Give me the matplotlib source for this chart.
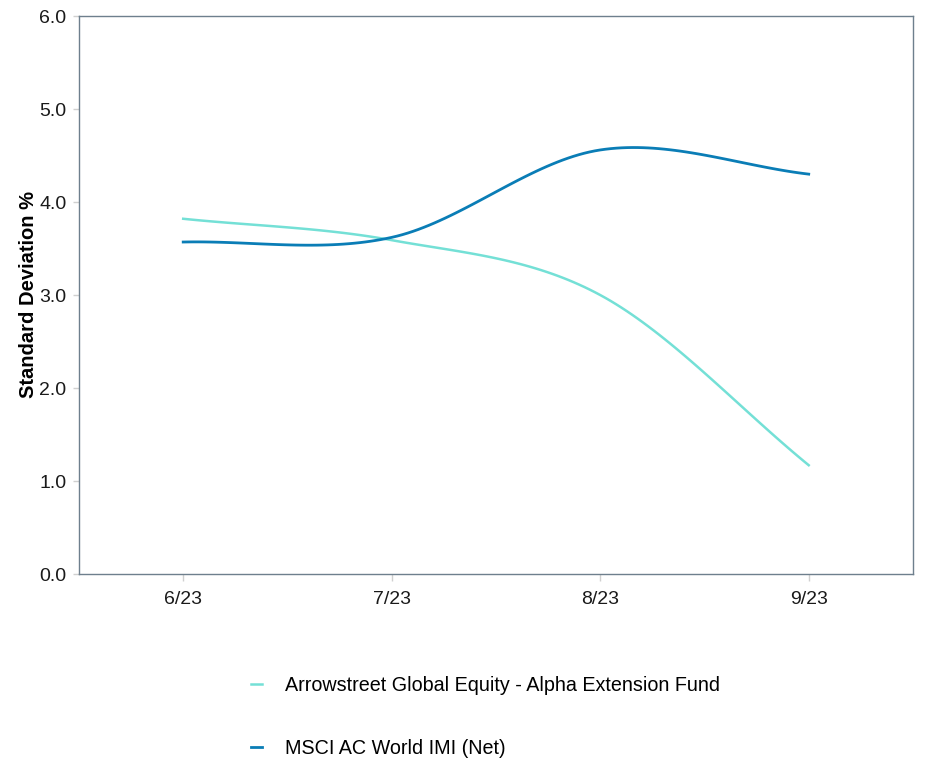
import matplotlib
matplotlib.use('Agg')
import matplotlib.pyplot as plt
import numpy as np

plt.rcParams['font.family'] = ['Liberation Sans', 'DejaVu Sans']

months = ['6/23', '7/23', '8/23', '9/23']
fund_name = 'Arrowstreet Global Equity - Alpha Extension Fund'
index_name = 'MSCI AC World IMI (Net)'
fund_sd = [3.82, 3.59, 3.00, 1.17]
index_sd = [3.57, 3.62, 4.56, 4.30]
y_ticks = [0.0, 1.0, 2.0, 3.0, 4.0, 5.0, 6.0]


def smooth(y, n=40):
    # catmull-rom style spline through the points, for drawing only
    y = np.asarray(y, dtype=float)
    x = np.arange(len(y))
    m = np.gradient(y)
    xs, ys = [], []
    for i in range(len(y) - 1):
        t = np.linspace(0, 1, n)
        h00 = 2 * t**3 - 3 * t**2 + 1
        h10 = t**3 - 2 * t**2 + t
        h01 = -2 * t**3 + 3 * t**2
        h11 = t**3 - t**2
        xs.append(x[i] + t)
        ys.append(h00 * y[i] + h10 * m[i] + h01 * y[i + 1] + h11 * m[i + 1])
    return np.concatenate(xs), np.concatenate(ys)


fig = plt.figure(figsize=(9.3, 7.6), dpi=100)
ax = fig.add_axes([0.0849, 0.2447, 0.8968, 0.7342])

x1, y1 = smooth(fund_sd)
x2, y2 = smooth(index_sd)
ax.plot(x1, y1, color='#74e0d6', linewidth=1.8, label=fund_name)
ax.plot(x2, y2, color='#0a7db6', linewidth=2.0, label=index_name)

ax.set_xlim(-0.5, 3.5)
ax.set_ylim(0, 6)
ax.set_xticks(range(len(months)))
ax.set_xticklabels(months, fontsize=14)
ax.set_yticks(y_ticks)
ax.set_yticklabels(['%.1f' % v for v in y_ticks], fontsize=14)
ax.tick_params(axis='both', colors='#d0d0d0', labelcolor='#1a1a1a', length=5, width=1)
ax.tick_params(axis='x', pad=7)
ax.tick_params(axis='y', length=4, pad=5)
for s in ax.spines.values():
    s.set_color('#6e7f8d')
    s.set_linewidth(1.0)

fig.text(29 / 930, 1 - 295 / 760, 'Standard Deviation %', rotation=90,
         ha='center', va='center', fontsize=14.5, fontweight='bold')

fig.legend(loc='upper left', bbox_to_anchor=(0.2695, 0.111), frameon=False,
           fontsize=14.2, handlelength=0.6, handletextpad=1.15, labelspacing=2.25,
           borderaxespad=0, borderpad=0)

plt.savefig('out.png', dpi=100)
